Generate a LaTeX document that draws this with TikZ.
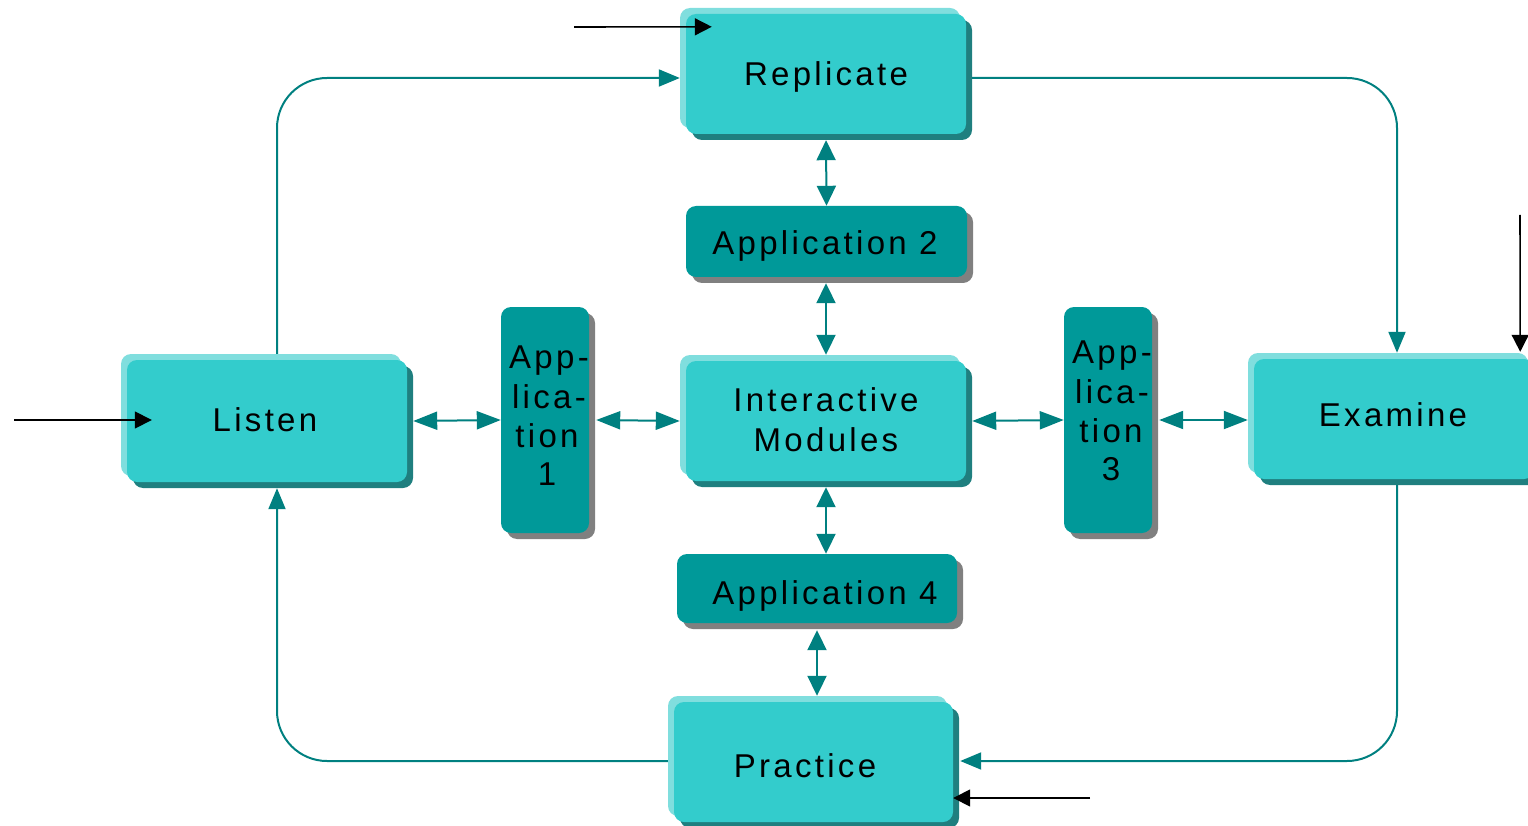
\documentclass[tikz,border=0pt]{standalone}
\usepackage{fontspec}
\setmainfont{Liberation Sans}[LetterSpace=10]
\usetikzlibrary{arrows.meta,shadows,calc}
\definecolor{lightc}{HTML}{80DEDE}
\definecolor{facec}{HTML}{33CCCC}
\definecolor{shadc}{HTML}{1F7F7F}
\definecolor{appc}{HTML}{009999}
\definecolor{appshad}{HTML}{808080}
\definecolor{linec}{HTML}{008080}
\begin{document}
\begin{tikzpicture}[x=1pt,y=-1pt,
  bigbox/.style={rectangle, rounded corners=10pt, fill=facec, inner sep=0pt,
    minimum width=280pt, minimum height=120pt,
    general shadow={fill=shadc, shadow xshift=6pt, shadow yshift=-6pt},
    general shadow={fill=lightc, shadow xshift=-6pt, shadow yshift=6pt}},
  appbox/.style={rectangle, rounded corners=10pt, fill=appc, inner sep=0pt,
    general shadow={fill=appshad, shadow xshift=6pt, shadow yshift=-6pt}},
  txt/.style={anchor=base, inner sep=0pt, font=\fontsize{33}{40}\selectfont},
  hbiarrow/.style={draw=linec, line width=2pt,
    {Triangle[length=24pt,width=18pt]}-{Triangle[length=24pt,width=18pt]}},
  vbiarrow/.style={draw=linec, line width=2pt,
    {Triangle[length=20pt,width=19pt]}-{Triangle[length=20pt,width=19pt]}},
  looparrow/.style={draw=linec, line width=2pt, rounded corners=50pt,
    -{Triangle[length=21pt,width=17pt]}},
  inarrow/.style={draw=black, line width=1.6pt, -{Triangle[length=17pt,width=17pt]}}
]
\useasboundingbox (0,0) rectangle (1528,826);

% main boxes
\node[bigbox] (rep) at (826,74) {};
\node[bigbox, minimum height=122pt] (listen) at (267,421) {};
\node[bigbox] (inter) at (826,421) {};
\node[bigbox] (exam) at (1394,419) {};
\node[bigbox, minimum width=279pt] (prac) at (813.5,762) {};

% application boxes
\node[appbox, minimum width=88pt, minimum height=226pt] (app1) at (545,420) {};
\node[appbox, minimum width=88pt, minimum height=226pt] (app3) at (1108,420) {};
\node[appbox, minimum width=281pt, minimum height=71pt] (app2) at (826.5,241.5) {};
\node[appbox, minimum width=280pt, minimum height=69pt] (app4) at (817,588.5) {};

% labels
\node[txt] (rep-t) at (826,86) {Replicate};
\node[txt] (listen-t) at (265,431) {Listen};
\node[txt] (inter-t1) at (826,411) {Interactive};
\node[txt] (inter-t2) at (826,451) {Modules};
\node[txt] (exam-t) at (1393,426) {Examine};
\node[txt] (prac-t) at (805,777) {Practice};
\node[txt] (app2-t) at (825,255) {Application 2};
\node[txt] (app4-t) at (825,604) {Application 4};
\node[txt] (app1-t1) at (549,368) {App-};
\node[txt] (app1-t2) at (549,408) {lica-};
\node[txt] (app1-t3) at (547,447) {tion};
\node[txt] (app1-t4) at (547,485) {1};
\node[txt] (app3-t1) at (1112,363) {App-};
\node[txt] (app3-t2) at (1112,403) {lica-};
\node[txt] (app3-t3) at (1111,442) {tion};
\node[txt] (app3-t4) at (1111,480) {3};

% vertical double arrows
\draw[vbiarrow] ($(rep.south)+(0,6)$) -- (app2.north);
\draw[vbiarrow] ($(app2.south)+(-0.5,6)$) -- ($(inter.north)+(0,-6)$);
\draw[vbiarrow] ($(inter.south)+(0,6)$) -- ($(app4.north)+(9,0)$);
\draw[vbiarrow] ($(app4.south)+(0,7)$) -- ($(prac.north)+(3.5,-6)$);

% horizontal double arrows
\draw[hbiarrow] ($(listen.east)+(6,0)$) -- (app1.west);
\draw[hbiarrow] ($(app1.east)+(7,0)$) -- ($(inter.west)+(-6,0)$);
\draw[hbiarrow] ($(inter.east)+(6,0)$) -- (app3.west);
\draw[hbiarrow] ($(app3.east)+(7,0)$) -- ($(exam.west)+(-6,1)$);

% loop connectors
\draw[looparrow] ($(listen.north)+(10,-6)$) |- ($(rep.west)+(-6,4)$);
\draw[looparrow] ($(rep.east)+(6,4)$) -| ($(exam.north)+(3,-6)$);
\draw[looparrow] ($(exam.south)+(3,6)$) |- ($(prac.east)+(7,-1)$);
\draw[looparrow] ($(prac.west)+(-6,-1)$) -| ($(listen.south)+(10,6)$);

% external inputs
\coordinate (in1) at (574,27);
\coordinate (in2) at (14,420);
\coordinate (in3) at (1520,215);
\coordinate (in4) at (1090,798);
\draw[inarrow] (in1) -- ($(rep.north west)+(26,13)$);
\draw[inarrow] (in2) -- ($(listen.west)+(25,-1)$);
\draw[inarrow] (in3) -- ($(exam.north east)+(-14,-7)$);
\draw[inarrow] (in4) -- ($(prac.east)+(0,36)$);
\end{tikzpicture}
\end{document}
